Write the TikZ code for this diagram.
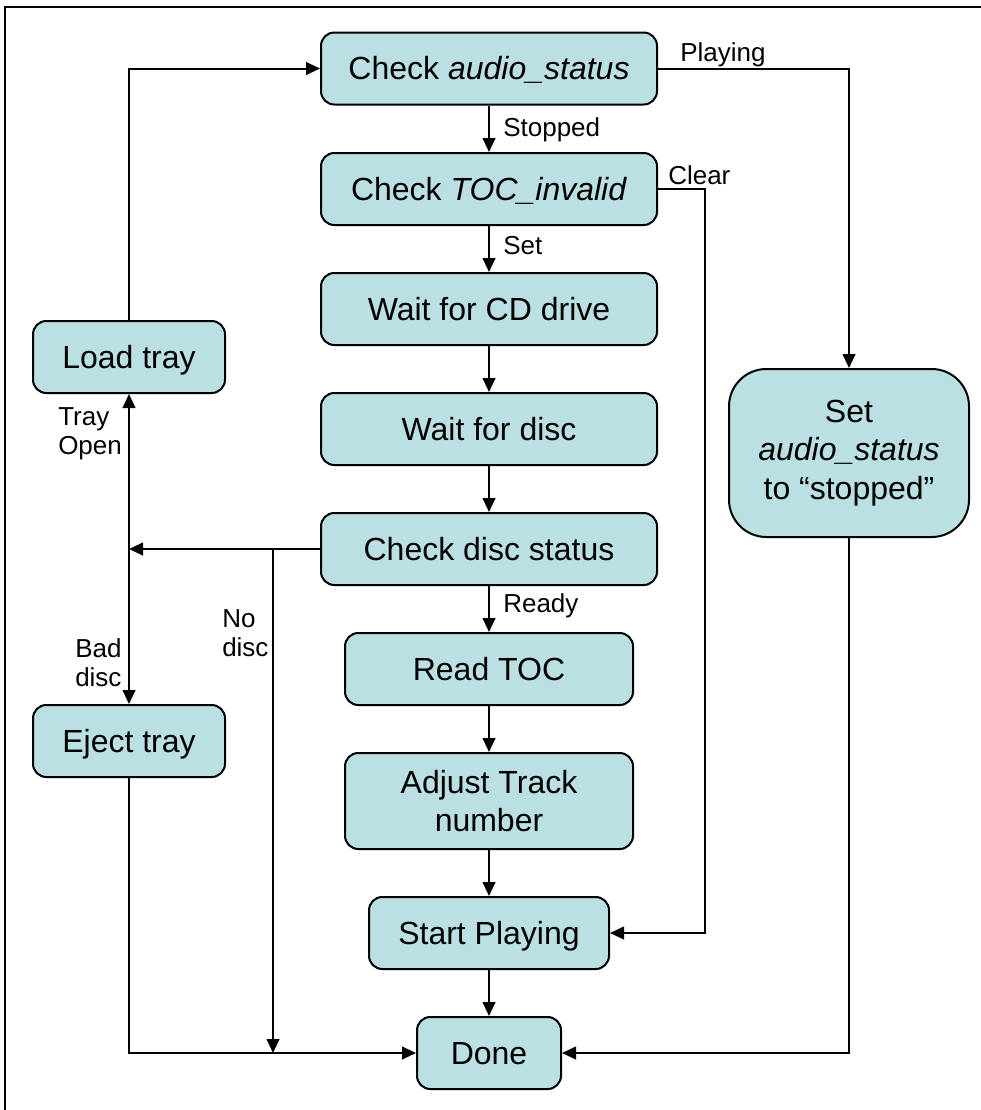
\documentclass[tikz,border=0pt]{standalone}
\usepackage{fontspec}
\setmainfont{Liberation Sans}
\usetikzlibrary{arrows.meta}
\definecolor{boxfill}{HTML}{BBE0E3}
\tikzset{
  box/.style={draw, line width=1.5pt, fill=boxfill, rounded corners=10pt,
    align=center, inner sep=0pt, font=\fontsize{24}{29}\selectfont},
  line1/.style={text height=21.7pt, text depth=5.1pt},
  lbl/.style={inner sep=0pt, align=left, font=\fontsize{19.5}{22}\selectfont},
  lbl1/.style={text height=17.6pt, text depth=4.1pt},
  arr/.style={line width=1.5pt, -{Triangle[length=10.5pt,width=9.5pt]}},
  ln/.style={line width=1.5pt}
}
\begin{document}
\begin{tikzpicture}[x=0.75pt, y=-0.75pt]
\useasboundingbox (0,0) rectangle (981,1110);
% outer frame (left and top edges)
\draw[line width=1.5pt] (5,1110) -- (5,7) -- (981,7);

% main column
\node[box, line1, minimum width=252pt, minimum height=54pt] (aud) at (489,68.5) {Check \textit{audio\_status}};
\node[box, line1, minimum width=252pt, minimum height=54pt] (toc) at (489,189) {Check \textit{TOC\_invalid}};
\node[box, line1, minimum width=252pt, minimum height=54pt] (cdw) at (489,309) {Wait for CD drive};
\node[box, line1, minimum width=252pt, minimum height=54pt] (dw) at (489,429) {Wait for disc};
\node[box, line1, minimum width=252pt, minimum height=54pt] (ds) at (489,549) {Check disc status};
\node[box, line1, minimum width=216pt, minimum height=54pt] (rt) at (489,669) {Read TOC};
\node[box, minimum width=216pt, minimum height=72pt] (adj) at (489,801) {Adjust Track\\number};
\node[box, line1, minimum width=180pt, minimum height=54pt] (sp) at (489,933) {Start Playing};
\node[box, line1, minimum width=108pt, minimum height=54pt] (done) at (489,1053) {Done};

% side boxes
\node[box, line1, minimum width=144pt, minimum height=54pt] (load) at (129,357) {Load tray};
\node[box, line1, minimum width=144pt, minimum height=54pt] (eject) at (129,741) {Eject tray};
\node[box, rounded corners=28pt, minimum width=180pt, minimum height=126pt] (setst) at (849,453)
  {Set\\\textit{audio\_status}\\to “stopped”};

% junction points
\coordinate (j) at (129,549);
\coordinate (nd) at (273,549);
\coordinate (ndend) at (273,1053);
\coordinate (clr) at (705,189);

% connectors
\draw[arr] (load.north) |- (aud.west);
\draw[arr] (aud.east) -| (setst.north);
\draw[arr] (aud.south) -- (toc.north);
\draw[arr] (toc.east) -- (clr) |- (sp.east);
\draw[arr] (toc.south) -- (cdw.north);
\draw[arr] (cdw.south) -- (dw.north);
\draw[arr] (dw.south) -- (ds.north);
\draw[arr] (ds.west) -- (j);
\draw[arr] (j) -- (load.south);
\draw[arr] (j) -- (eject.north);
\draw[arr] (nd) -- (ndend);
\draw[arr] (ds.south) -- (rt.north);
\draw[arr] (rt.south) -- (adj.north);
\draw[arr] (adj.south) -- (sp.north);
\draw[arr] (sp.south) -- (done.north);
\draw[arr] (eject.south) |- (done.west);
\draw[arr] (setst.south) |- (done.east);

% labels
\node[lbl, lbl1, anchor=west] (lplay) at (680,52) {Playing};
\node[lbl, lbl1, anchor=west] (lstop) at (503,127) {Stopped};
\node[lbl, lbl1, anchor=west] (lclear) at (668,175) {Clear};
\node[lbl, lbl1, anchor=west] (lset) at (503,245) {Set};
\node[lbl, lbl1, anchor=west] (lready) at (503,603) {Ready};
\node[lbl, anchor=west] (ltray) at (58,434) {Tray\\Open};
\node[lbl, anchor=west] (lbad) at (75,663) {Bad\\disc};
\node[lbl, anchor=west] (lnod) at (222,633) {No\\disc};
\end{tikzpicture}
\end{document}
